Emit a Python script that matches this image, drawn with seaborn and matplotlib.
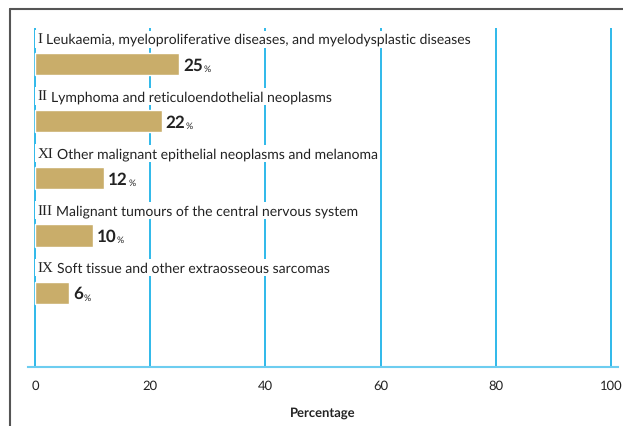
import matplotlib
matplotlib.use("Agg")
import matplotlib.pyplot as plt
from matplotlib.lines import Line2D
import seaborn as sns
import pandas as pd

numerales = ["I", "II", "XI", "III", "IX"]
grupos = ["Leukaemia, myeloproliferative diseases, and myelodysplastic diseases",
          "Lymphoma and reticuloendothelial neoplasms",
          "Other malignant epithelial neoplasms and melanoma",
          "Malignant tumours of the central nervous system",
          "Soft tissue and other extraosseous sarcomas"]
porcentajes = [25, 22, 12, 10, 6]
ticks_x = [0, 20, 40, 60, 80, 100]

datos = pd.DataFrame({"grupo": grupos, "pct": porcentajes})

sns.set_style("white")
plt.rcParams['font.family'] = ['Lato', 'DejaVu Sans']
plt.rcParams['text.hinting'] = 'no_hinting'
plt.rcParams['text.hinting_factor'] = 1

azul = '#1fb3e8'
azul_claro = '#6dcdf0'
color_barra = '#c9ad6a'

fig = plt.figure(figsize=(6.23, 4.27), dpi=100)
ax = fig.add_axes([28/623, 59/427, 590/623, 339/427])

sns.barplot(data=datos, x='pct', y='grupo', orient='h', color=color_barra,
            width=0.39, saturation=1, ax=ax, zorder=3)

ax.set_xlim(-1.2, 101.2)
ax.set_ylim(5.3, -0.63)
ax.set_xticks(ticks_x)
ax.set_yticks([])
ax.set_ylabel('')
ax.grid(True, axis='x', color=azul, linewidth=1.3, zorder=0)
ax.set_axisbelow(True)
for lado in ['left', 'right', 'top']:
    ax.spines[lado].set_visible(False)
ax.spines['bottom'].set_color(azul_claro)
ax.spines['bottom'].set_linewidth(1.5)
ax.tick_params(axis='x', length=5, width=1.3, color=azul, pad=4,
               labelsize=9, labelcolor='#222222')
ax.set_xlabel('Percentage', fontsize=9, fontweight='bold', color='#222222', labelpad=11)

caja = dict(facecolor='white', edgecolor='none', pad=1.5)
for i, (num, grupo, pct) in enumerate(zip(numerales, grupos, porcentajes)):
    t = ax.text(0.4, i - 0.38, num, family=['Liberation Serif'], fontsize=10.5,
                color='#222222', va='baseline', ha='left', bbox=caja, zorder=4)
    ax.annotate(grupo, xy=(1, 0), xycoords=t, xytext=(3, 0), textcoords='offset points',
                fontsize=10, color='#222222', va='bottom', ha='left', bbox=caja, zorder=4)
    n = ax.annotate(str(pct), xy=(pct, i), xytext=(3, -0.5), textcoords='offset points',
                    fontsize=12.5, fontweight='bold', color='#222222', va='center',
                    ha='left', zorder=4)
    ax.annotate('%', xy=(1, 0), xycoords=n, xytext=(0.3, 0), textcoords='offset points',
                fontsize=6.5, color='#222222', va='bottom', ha='left', zorder=4)

# marco de la figura
fig.add_artist(Line2D([10/623, 10/623], [0, 1 - 10/427], transform=fig.transFigure,
                      color='#555555', linewidth=1.5))
fig.add_artist(Line2D([10/623, 1], [1 - 10/427, 1 - 10/427], transform=fig.transFigure,
                      color='#555555', linewidth=1.5))

fig.savefig('out.png', dpi=100)
